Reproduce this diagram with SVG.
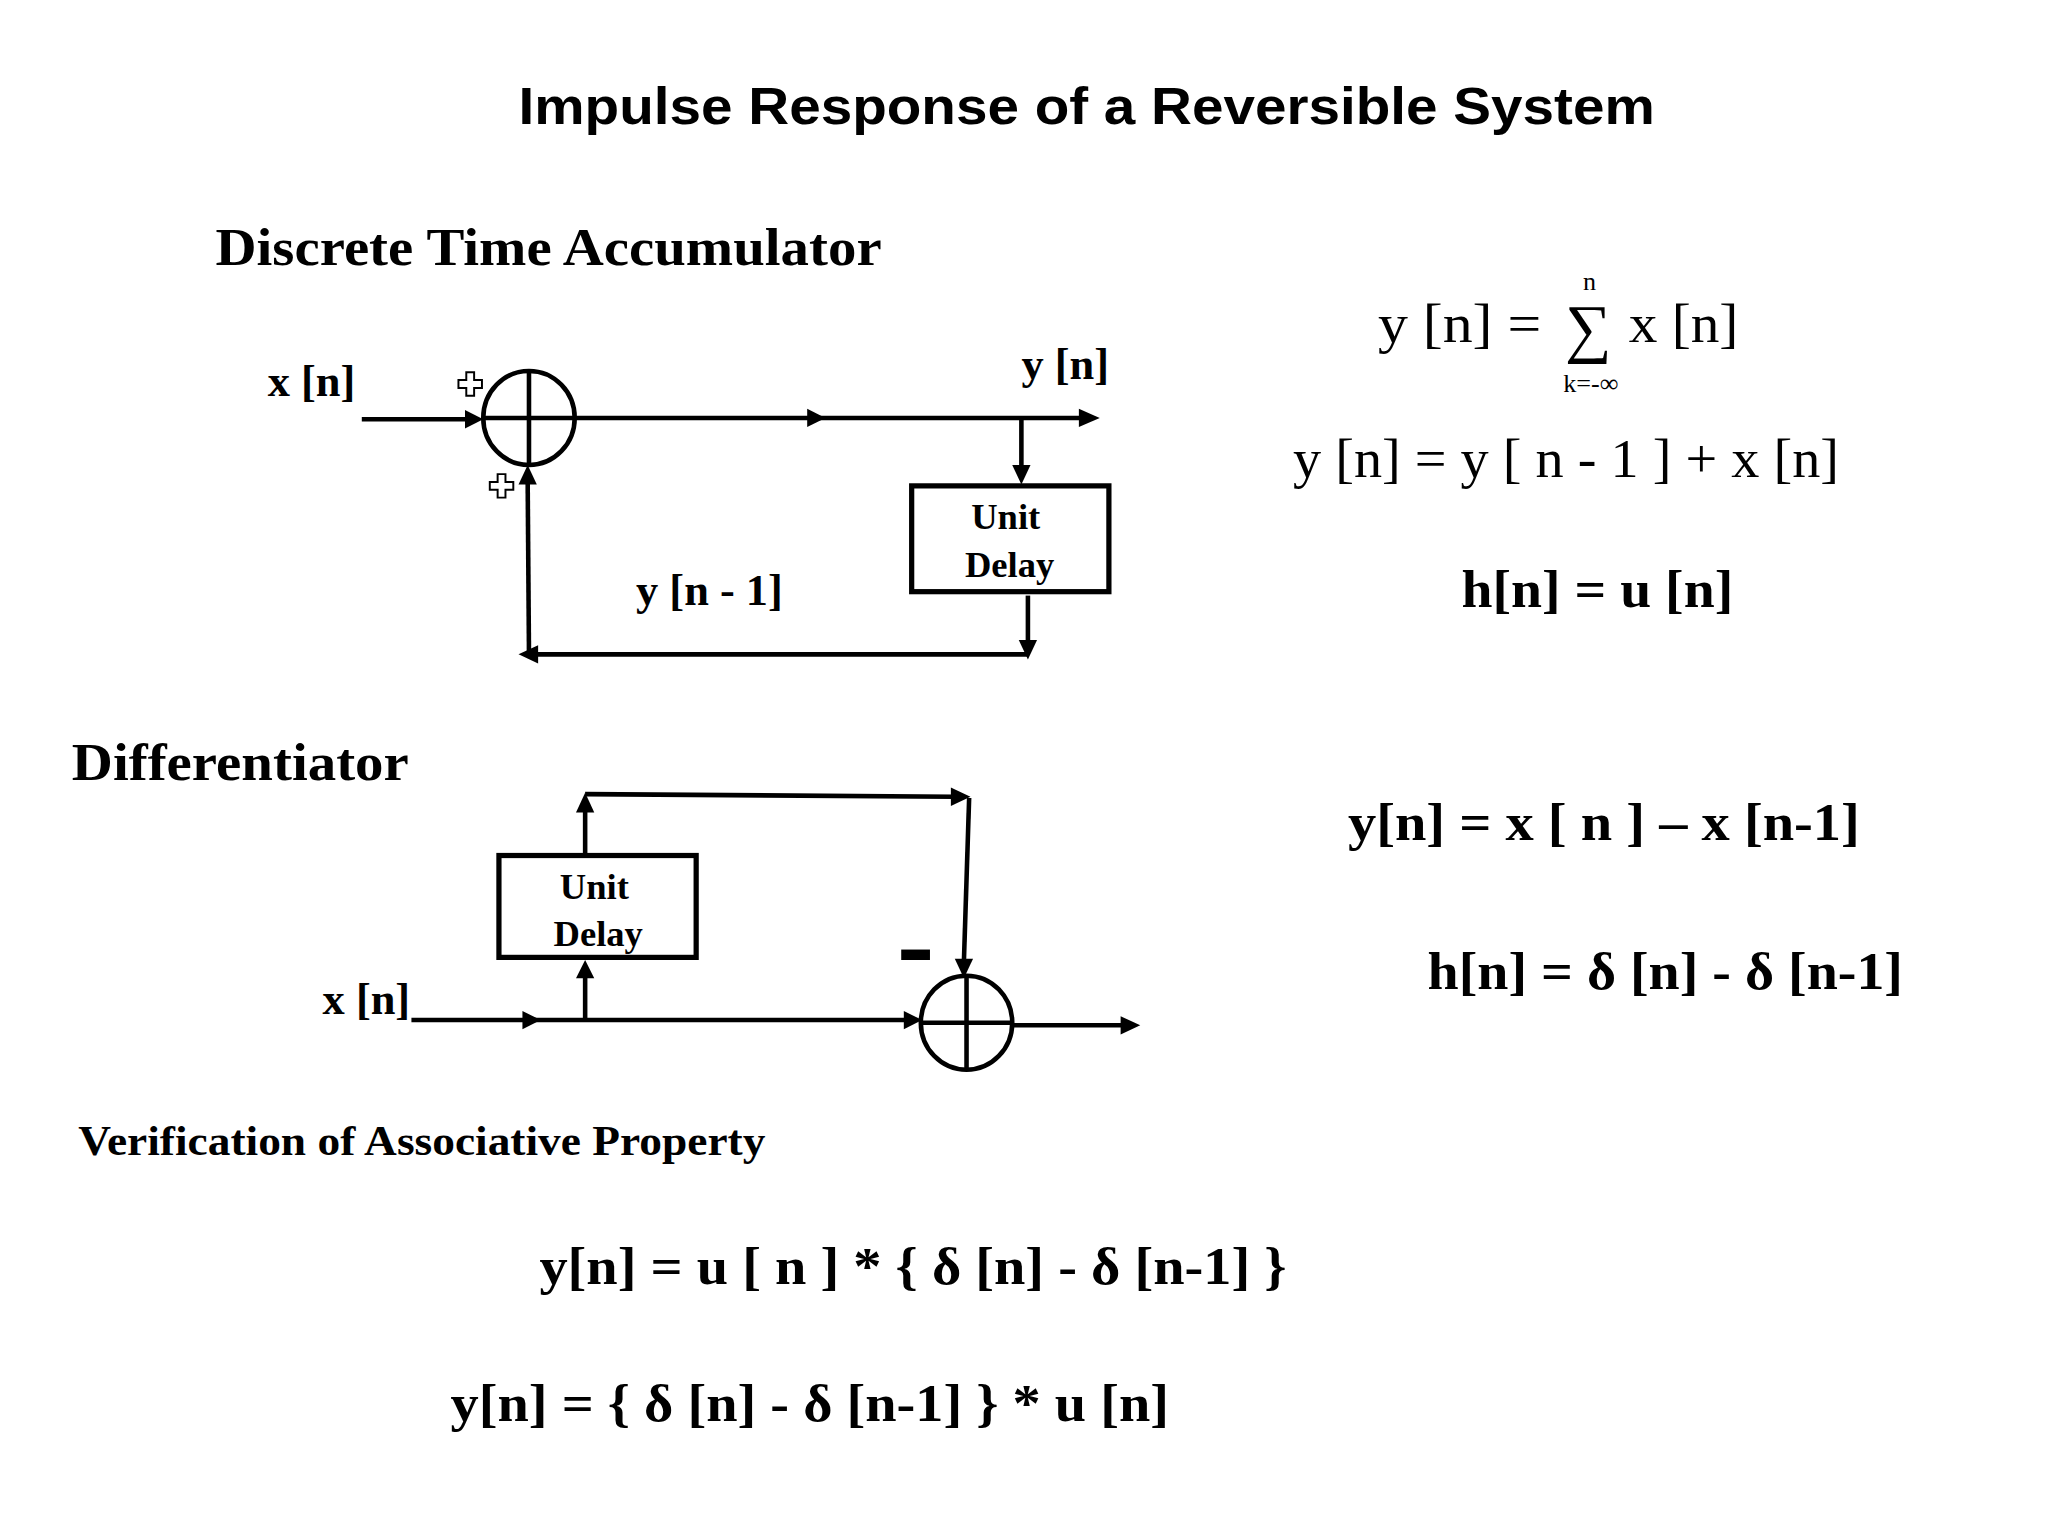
<svg xmlns="http://www.w3.org/2000/svg" width="2048" height="1536" viewBox="0 0 2048 1536">
<style>
.t{font-family:"Liberation Serif","Times New Roman",serif;font-weight:bold;fill:#000}
.s{font-family:"Liberation Serif","Times New Roman",serif;fill:#000}
.l{stroke:#000;stroke-width:3.5;fill:none}
.b{stroke:#000;stroke-width:4;fill:#fff}
</style>
<rect width="2048" height="1536" fill="#fff"/>
<g transform="scale(1.30612)">
<text x="832" y="95" text-anchor="middle" font-family="Liberation Sans,Arial,sans-serif" font-weight="bold" font-size="40" textLength="870" lengthAdjust="spacingAndGlyphs">Impulse Response of a Reversible System</text>
<text class="t" x="165" y="203" font-size="40" textLength="510" lengthAdjust="spacingAndGlyphs">Discrete Time Accumulator</text>
<text class="t" x="55" y="597" font-size="40" textLength="258" lengthAdjust="spacingAndGlyphs">Differentiator</text>
<text class="t" x="60" y="884" font-size="32" textLength="526" lengthAdjust="spacingAndGlyphs">Verification of Associative Property</text>

<g id="connectors">
<line class="l" x1="277" y1="321" x2="358" y2="321"/>
<path d="M356,314 L370,321 L356,328 z"/>
<path class="l" d="M440,320 L625,320"/>
<path d="M618,313 L632,320 L618,327 z"/>
<line class="l" x1="625" y1="320" x2="828" y2="320"/>
<path d="M826,313 L842,320 L826,327 z"/>
<line class="l" x1="782" y1="320" x2="782" y2="358"/>
<path d="M775,356 L782,371 L789,356 z"/>
<line class="l" x1="787" y1="456" x2="787" y2="492"/>
<path d="M780,490 L787,505 L794,490 z"/>
<line class="l" x1="787" y1="501" x2="410" y2="501"/>
<path d="M412,494 L397,501 L412,508 z"/>
<line class="l" x1="405" y1="501" x2="404" y2="369"/>
<path d="M397,371 L404,356 L411,371 z"/>

<line class="l" x1="315" y1="781" x2="694" y2="781"/>
<path d="M400,774 L414,781 L400,788 z"/>
<path d="M692,774 L706,781 L692,788 z"/>
<line class="l" x1="775" y1="785" x2="860" y2="785"/>
<path d="M858,778 L873,785 L858,792 z"/>
<line class="l" x1="448" y1="781" x2="448" y2="747"/>
<path d="M441,749 L448,735 L455,749 z"/>
<line class="l" x1="448" y1="655" x2="448" y2="620"/>
<path d="M441,622 L448,607 L455,622 z"/>
<line class="l" x1="448" y1="608" x2="730" y2="610"/>
<path d="M728,603 L743,610 L728,617 z"/>
<line class="l" x1="742" y1="611" x2="738" y2="736"/>
<path d="M731,734 L738,749 L745,734 z"/>
</g>

<g id="sum1">
<ellipse class="l" cx="405" cy="320" rx="35" ry="36" stroke-width="4"/>
<line class="l" x1="370" y1="320" x2="440" y2="320"/>
<line class="l" x1="405" y1="284" x2="405" y2="356"/>
<path d="M357,285 h6 v6 h6 v6 h-6 v6 h-6 v-6 h-6 v-6 h6 z" fill="#fff" stroke="#000" stroke-width="1.5"/>
<path d="M381,363 h6 v6 h6 v6 h-6 v6 h-6 v-6 h-6 v-6 h6 z" fill="#fff" stroke="#000" stroke-width="1.5"/>
</g>
<g id="delay1">
<rect class="b" x="698" y="372" width="151" height="81"/>
<text class="t" x="770" y="405" font-size="28" text-anchor="middle">Unit</text>
<text class="t" x="773" y="442" font-size="28" text-anchor="middle">Delay</text>
</g>
<g id="sum2">
<ellipse class="l" cx="740" cy="783" rx="35" ry="36" stroke-width="4"/>
<line class="l" x1="705" y1="783" x2="775" y2="783"/>
<line class="l" x1="740" y1="747" x2="740" y2="819"/>
<rect x="690" y="727" width="22" height="8"/>
</g>
<g id="delay2">
<rect class="b" x="382" y="655" width="151" height="78"/>
<text class="t" x="455" y="688" font-size="28" text-anchor="middle">Unit</text>
<text class="t" x="458" y="724" font-size="28" text-anchor="middle">Delay</text>
</g>

<text class="t" x="205" y="303" font-size="34">x [n]</text>
<text class="t" x="782" y="290" font-size="34">y [n]</text>
<text class="t" x="487" y="463" font-size="34">y [n - 1]</text>
<text class="t" x="247" y="776" font-size="34">x [n]</text>

<text class="s" x="1055" y="262" font-size="42" textLength="125" lengthAdjust="spacingAndGlyphs">y [n] =</text>
<text class="s" x="1216" y="268" font-size="50" text-anchor="middle">∑</text>
<text class="s" x="1247" y="262" font-size="42" textLength="84" lengthAdjust="spacingAndGlyphs">x [n]</text>
<text class="s" x="1217" y="222" font-size="20" text-anchor="middle">n</text>
<text class="s" x="1218" y="300" font-size="20" text-anchor="middle">k=-∞</text>
<text class="s" x="990" y="365" font-size="42" textLength="418" lengthAdjust="spacingAndGlyphs">y [n] = y [ n - 1 ] + x [n]</text>
<text class="t" x="1119" y="465" font-size="40" textLength="208" lengthAdjust="spacingAndGlyphs">h[n] = u [n]</text>
<text class="t" x="1032" y="643" font-size="40" textLength="392" lengthAdjust="spacingAndGlyphs">y[n] = x [ n ] – x [n-1]</text>
<text class="t" x="1093" y="757" font-size="40" textLength="364" lengthAdjust="spacingAndGlyphs">h[n] = δ [n] - δ [n-1]</text>
<text class="t" x="413" y="983" font-size="40" textLength="572" lengthAdjust="spacingAndGlyphs">y[n] = u [ n ] * { δ [n] - δ [n-1] }</text>
<text class="t" x="345" y="1088" font-size="40" textLength="550" lengthAdjust="spacingAndGlyphs">y[n] = { δ [n] - δ [n-1] } * u [n]</text>
</g>
</svg>
